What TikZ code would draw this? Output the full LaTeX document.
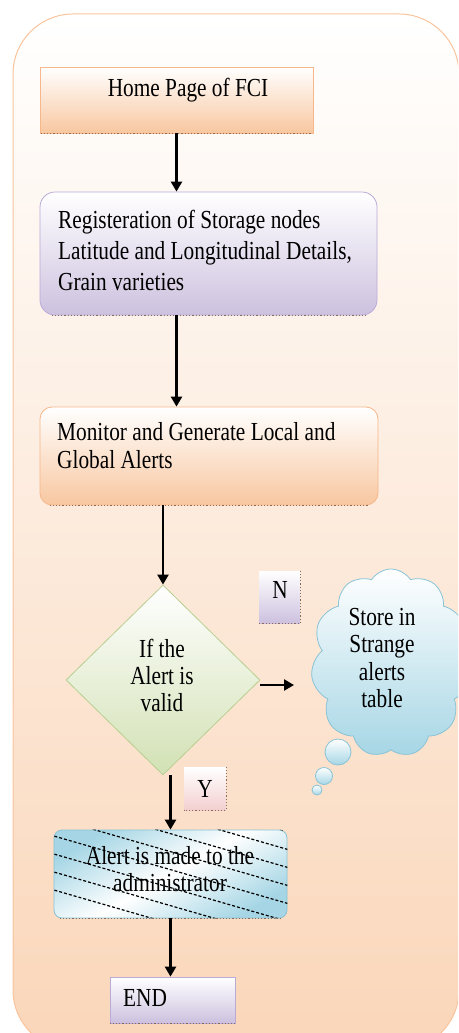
\documentclass[tikz,border=0pt]{standalone}
\usepackage{fontspec}
\setmainfont{Liberation Serif}[FakeStretch=0.82]
\usetikzlibrary{shapes.geometric,shapes.symbols,arrows.meta}
\definecolor{peach}{HTML}{F8C7A0}
\definecolor{peachline}{HTML}{F6B78A}
\definecolor{framebot}{HTML}{FAD6B9}
\definecolor{frameline}{HTML}{F9C49C}
\definecolor{lav}{HTML}{CDC1DF}
\definecolor{lavline}{HTML}{B9ABD8}
\definecolor{grn}{HTML}{D2E1B4}
\definecolor{grnline}{HTML}{B7CF91}
\definecolor{blu}{HTML}{A6D6E5}
\definecolor{bluline}{HTML}{88C3D6}
\definecolor{pnk}{HTML}{F3CFCF}
\definecolor{dotcol}{HTML}{8A6B5A}
\tikzset{
  boxbase/.style={inner sep=0, line width=0.8pt},
  peachbox/.style={boxbase, draw=peachline, top color=white, bottom color=peach},
  lavbox/.style={boxbase, draw=lavline, top color=white, bottom color=lav},
  txt/.style={inner sep=0, font=\fontsize{26}{28}\selectfont},
  arr/.style={line width=2.4pt, -{Triangle[width=11pt,length=10pt]}},
  dots/.style={dotcol, dotted, line width=1.2pt},
}
\begin{document}
\begin{tikzpicture}[x=1pt,y=-1pt]
\useasboundingbox (0,0) rectangle (458,1033);
\clip (0,0) rectangle (458,1033);
% frame
\path[draw=frameline, line width=1pt, top color=white, bottom color=framebot, rounded corners=60] (13,14) rectangle (459,1050);

% Home
\node[peachbox, rectangle, minimum width=273, minimum height=66] (home) at (176.5,100) {};
\draw[dots] ([xshift=1pt]home.south west) -- ([xshift=-1pt]home.south east);
\node[txt] (homet) at (188,90) {Home Page of FCI};

% Registration
\node[lavbox, rectangle, rounded corners=15, minimum width=337, minimum height=123] (reg) at (208.5,253.5) {};
\draw[dots] ([xshift=12pt]reg.south west) -- ([xshift=-12pt]reg.south east);
\node[txt, anchor=west, align=left, font=\fontsize{26}{31}\selectfont] (regt) at (58,250) {Registeration of Storage nodes\\Latitude and Longitudinal Details,\\Grain varieties};

% Monitor
\node[peachbox, rectangle, rounded corners=12, minimum width=338, minimum height=98] (mon) at (209,456) {};
\draw[dots] ([xshift=10pt]mon.south west) -- ([xshift=-10pt]mon.south east);
\node[txt, anchor=west, align=left] (mont) at (57,446) {Monitor and Generate Local and\\Global Alerts};

% Diamond
\node[boxbase, diamond, aspect=1, draw=grnline, top color=white, bottom color=grn, minimum width=194, minimum height=190] (dia) at (163,680) {};
\node[txt, align=center, font=\fontsize{26}{27}\selectfont] (diat) at (162,675) {If the\\Alert is\\valid};

% N and Y labels
\node[boxbase, rectangle, draw=none, top color=white, bottom color=lav, minimum width=41, minimum height=52] (nbox) at (279.5,597) {};
\draw[dots] (nbox.north east) -- (nbox.south east) -- (nbox.south west);
\node[txt] (nt) at (280,590) {N};
\node[boxbase, rectangle, draw=none, top color=white, bottom color=pnk, minimum width=42, minimum height=43] (ybox) at (205,788.5) {};
\draw[dots] (ybox.north east) -- (ybox.south east) -- (ybox.south west);
\node[txt] (yt) at (205,789) {Y};

% Cloud
\node[boxbase, cloud, cloud puffs=11, cloud puff arc=115, aspect=0.85, draw=bluline, top color=white, bottom color=blu, minimum width=160, minimum height=188] (cloud) at (391,663) {};
\node[boxbase, circle, draw=bluline, top color=white, bottom color=blu, minimum size=26] (b1) at (338,752) {};
\node[boxbase, circle, draw=bluline, top color=white, bottom color=blu, minimum size=17] (b2) at (324,776) {};
\node[boxbase, circle, draw=bluline, top color=white, bottom color=blu, minimum size=10] (b3) at (317,790) {};
\node[txt, align=center, font=\fontsize{26}{27.5}\selectfont] (cloudt) at (382,658) {Store in\\Strange\\alerts\\table};

% Alert
\node[boxbase, rectangle, rounded corners=8, draw=bluline, top color=blu, bottom color=blu, middle color=white, shading angle=30, minimum width=233, minimum height=88] (alert) at (170.5,874) {};
\begin{scope}
  \clip[rounded corners=8] (alert.south west) rectangle (alert.north east);
  \foreach \yy in {760,778,796,814,832,850,868,886} {
    \draw[black, line width=1.2pt, dash pattern=on 3pt off 2pt] (40,\yy) -- (300,\yy+75);
  }
\end{scope}
\draw[dots] ([xshift=6pt]alert.south west) -- ([xshift=-6pt]alert.south east);
\node[txt, align=center, font=\fontsize{26}{27}\selectfont] (alertt) at (170,869) {Alert is made to the\\administrator};

% END
\node[lavbox, rectangle, minimum width=125, minimum height=46] (endb) at (172.5,1000) {};
\draw[dots] (endb.south west) -- (endb.south east);
\node[txt, anchor=west] (endt) at (123,998) {END};

% connectors
\coordinate (nend) at (294,685);
\draw[arr] (home.south) -- (home.south |- reg.north);
\draw[arr] (reg.south -| home.south) -- (mon.north -| home.south);
\draw[arr] (dia.north |- mon.south) -- (dia.north);
\draw[arr] (dia.east |- nend) -- (nend);
\draw[arr] (dia.south -| alert.north) -- (alert.north);
\draw[arr] (alert.south) -- (alert.south |- endb.north);
\end{tikzpicture}
\end{document}
